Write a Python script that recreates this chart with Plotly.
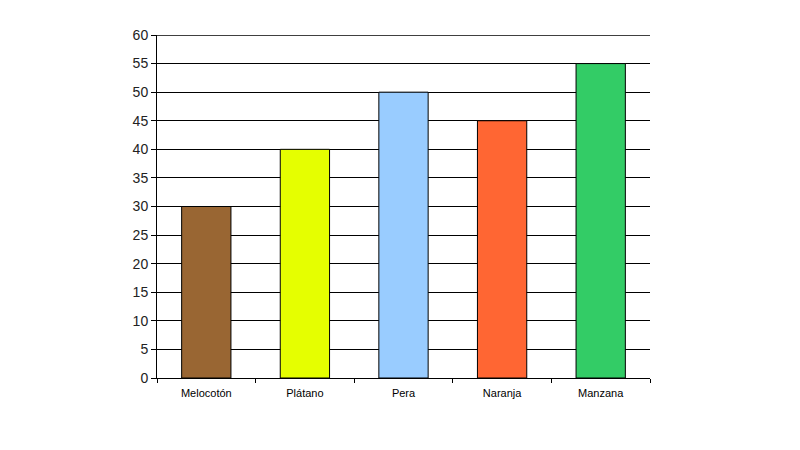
import plotly.graph_objects as go

categories = ["Melocotón", "Plátano", "Pera", "Naranja", "Manzana"]
values = [30, 40, 50, 45, 55]
colors = ["#996633", "#E5FF00", "#99CCFF", "#FF6633", "#33CC66"]
y_ticks = list(range(0, 61, 5))
y_max = 60

fig = go.Figure(go.Bar(
    x=categories, y=values,
    marker=dict(color=colors, line=dict(color="#000000", width=1)),
    width=0.5,
))

fig.add_shape(type="line", xref="paper", yref="y", x0=0, x1=1, y0=y_max, y1=y_max,
              line=dict(color="#000000", width=1.3), layer="above")

fig.update_layout(
    width=800, height=450,
    margin=dict(l=149, r=158, t=27, b=80),
    paper_bgcolor="white", plot_bgcolor="white",
    font=dict(family="Liberation Sans, Arial, sans-serif", color="#000000"),
    showlegend=False,
    xaxis=dict(
        showline=True, linecolor="#000000", linewidth=1,
        ticks="outside", tickson="boundaries", ticklen=4, tickcolor="#000000",
        tickfont=dict(size=11), showgrid=False, ticklabelstandoff=5,
    ),
    yaxis=dict(
        range=[0, y_max], tickvals=y_ticks,
        showline=True, linecolor="#000000", linewidth=1,
        ticks="outside", ticklen=5, tickcolor="#000000",
        showgrid=True, gridcolor="#000000", gridwidth=1,
        tickfont=dict(size=14, color="#222222"), zeroline=False,
    ),
)

fig.write_html("out.html")
